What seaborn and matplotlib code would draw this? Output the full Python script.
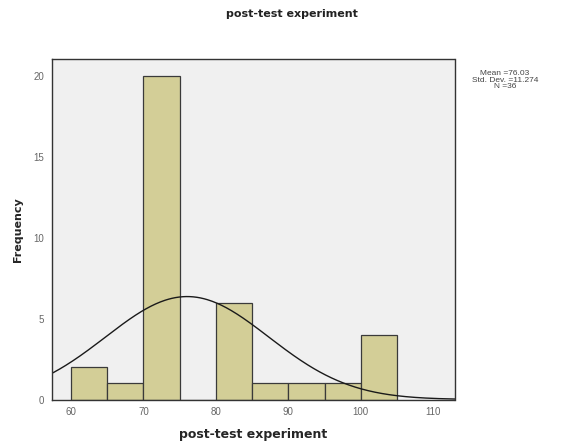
import numpy as np
import pandas as pd
import seaborn as sns
import matplotlib.pyplot as plt

# Binned scores (bin width 5) and counts
bin_edges = [60, 65, 70, 75, 80, 85, 90, 95, 100, 105]
counts = [2, 1, 20, 0, 6, 1, 1, 1, 4]
mean_score = 76.03
std_dev = 11.274
n_obs = 36

sns.set_style("white")
plt.rcParams["font.family"] = ["Liberation Sans", "DejaVu Sans"]

df = pd.DataFrame({
    "score": [(a + b) / 2 for a, b in zip(bin_edges[:-1], bin_edges[1:])],
    "count": counts,
})

fig = plt.figure(figsize=(5.68, 4.45), dpi=100)
ax = fig.add_axes([52 / 568, 1 - 399.5 / 445, 402.5 / 568, 340.5 / 445])
ax.set_facecolor("#F0F0F0")

sns.histplot(data=df, x="score", weights="count", bins=bin_edges,
             color="#D3CE97", edgecolor="#3a3a3a", linewidth=0.9,
             alpha=1, ax=ax)

# fitted normal curve scaled to frequency
xs = np.linspace(50, 115, 400)
ys = n_obs * 5 * np.exp(-0.5 * ((xs - mean_score) / std_dev) ** 2) / (std_dev * np.sqrt(2 * np.pi))
sns.lineplot(x=xs, y=ys, color="#1a1a1a", linewidth=1.0, ax=ax)

ax.set_xlim(57.38, 112.93)
ax.set_ylim(0, 21.07)
ax.set_xticks([60, 70, 80, 90, 100, 110])
ax.set_yticks([0, 5, 10, 15, 20])
ax.tick_params(axis="both", direction="out", length=3.5, width=0.8,
               labelsize=7, labelcolor="#666666", color="#333333", pad=2)
for s in ax.spines.values():
    s.set_color("#333333")
    s.set_linewidth(1.0)

ax.set_xlabel("post-test experiment", fontsize=9, fontweight="bold",
              labelpad=8, family="DejaVu Sans")
ax.set_ylabel("Frequency", fontsize=8, fontweight="bold", labelpad=8,
              family="DejaVu Sans")
fig.text(292 / 568, 1 - 14 / 445, "post-test experiment", ha="center", va="center",
         fontsize=8, fontweight="bold", color="#222222", family="DejaVu Sans")

fig.text(505 / 568, 1 - 80 / 445,
         f"Mean ={mean_score:.2f}\nStd. Dev. ={std_dev:.3f}\nN ={n_obs}",
         ha="center", va="center", fontsize=6, color="#444444", linespacing=0.95)

fig.savefig("out.png", dpi=100)
